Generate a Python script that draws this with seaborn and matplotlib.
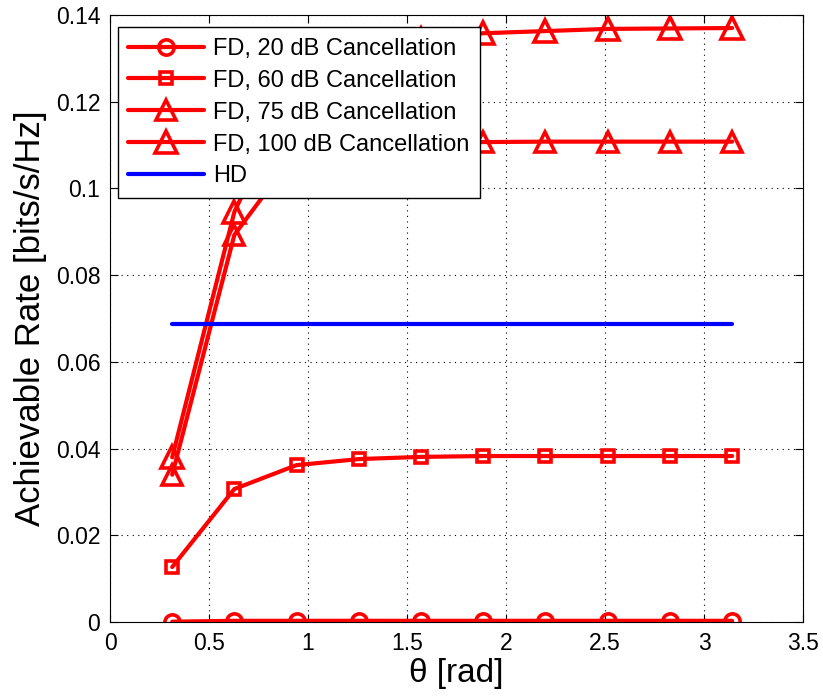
import numpy as np
import pandas as pd
import matplotlib
matplotlib.use("Agg")
import matplotlib.pyplot as plt
import seaborn as sns

# Misalignment angle samples (rad)
theta = [0.314, 0.628, 0.942, 1.257, 1.571, 1.885, 2.199, 2.513, 2.827, 3.142]

# Achievable rate per self-interference cancellation level
rate_fd20 = [0.0001, 0.0003, 0.0003, 0.0003, 0.0003, 0.0003, 0.0003, 0.0003, 0.0003, 0.0003]
rate_fd60 = [0.0127, 0.0307, 0.0362, 0.0376, 0.0381, 0.0383, 0.0383, 0.0383, 0.0383, 0.0383]
rate_fd75 = [0.0340, 0.0893, 0.1086, 0.1102, 0.1106, 0.1107, 0.1108, 0.1108, 0.1108, 0.1108]
rate_fd100 = [0.0380, 0.0946, 0.1250, 0.1320, 0.1345, 0.1358, 0.1363, 0.1368, 0.1369, 0.1370]
rate_hd = [0.0687, 0.0687]
theta_hd = [0.314, 3.142]

labels = ["FD, 20 dB Cancellation", "FD, 60 dB Cancellation",
          "FD, 75 dB Cancellation", "FD, 100 dB Cancellation", "HD"]

sns.set_theme(style="white")
plt.rcParams["font.family"] = ["Liberation Sans", "DejaVu Sans"]
plt.rcParams["text.color"] = "black"
plt.rcParams["axes.labelcolor"] = "black"

fig = plt.figure(figsize=(8.23, 6.99), dpi=100)
ax = fig.add_axes([0.1337, 0.110, 0.842, 0.8685])

red = "#ff0000"
series = [
    (rate_fd20, "o", 11, labels[0]),
    (rate_fd60, "s", 9, labels[1]),
    (rate_fd75, "^", 14, labels[2]),
    (rate_fd100, "^", 15.5, labels[3]),
]
for vals, mk, ms, lab in series:
    df = pd.DataFrame({"theta": theta, "rate": vals})
    sns.lineplot(data=df, x="theta", y="rate", ax=ax, color=red, lw=3.0,
                 marker=mk, markersize=ms, markerfacecolor="none",
                 markeredgecolor=red, markeredgewidth=2.6, label=lab)

df_hd = pd.DataFrame({"theta": theta_hd, "rate": rate_hd})
sns.lineplot(data=df_hd, x="theta", y="rate", ax=ax, color="#0000ff", lw=3.0, label=labels[4])

ax.set_xlim(0, 3.5)
ax.set_ylim(0, 0.14)
ax.set_xticks(np.arange(0, 3.51, 0.5))
ax.set_xticklabels(["0", "0.5", "1", "1.5", "2", "2.5", "3", "3.5"])
ax.set_yticks(np.arange(0, 0.141, 0.02))
ax.set_yticklabels(["0", "0.02", "0.04", "0.06", "0.08", "0.1", "0.12", "0.14"])
ax.tick_params(direction="in", length=6, width=0.8, colors="black", labelsize=16.5,
               top=True, right=True, bottom=True, left=True, pad=7)
ax.grid(True, linestyle=(0, (1, 4)), color="black", linewidth=0.8)
for sp in ax.spines.values():
    sp.set_color("black")
    sp.set_linewidth(0.8)

ax.set_xlabel("θ [rad]", fontsize=24, labelpad=2)
ax.set_ylabel("Achievable Rate [bits/s/Hz]", fontsize=25, labelpad=6)

leg = ax.legend(loc="upper left", bbox_to_anchor=(0.011, 0.98), fontsize=17,
                frameon=True, fancybox=False, framealpha=1, edgecolor="black",
                borderpad=0.45, labelspacing=0.42, handlelength=3.2, handletextpad=0.4,
                borderaxespad=0)
leg.get_frame().set_linewidth(1.0)

fig.savefig("out.png", dpi=100)
